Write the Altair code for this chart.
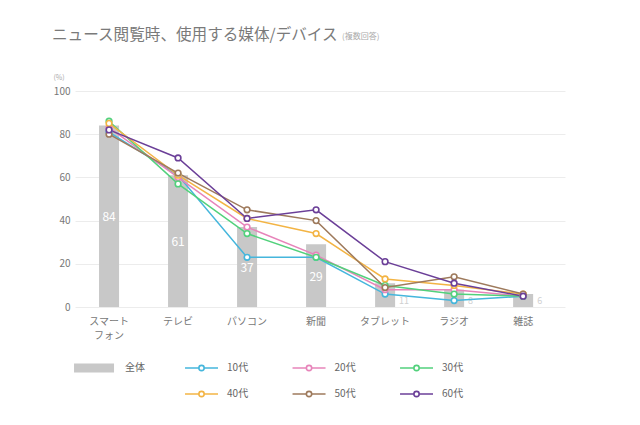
import altair as alt
import pandas as pd

categories = ["スマートフォン", "テレビ", "パソコン", "新聞", "タブレット", "ラジオ", "雑誌"]
total = [84, 61, 37, 29, 11, 8, 6]

ages = ["10代", "20代", "30代", "40代", "50代", "60代"]
v10 = [81, 61, 23, 23, 6, 3, 5]
v20 = [83, 60, 37, 24, 8, 8, 5]
v30 = [86, 57, 34, 23, 10, 6, 5]
v40 = [85, 61, 41, 34, 13, 10, 6]
v50 = [80, 62, 45, 40, 9, 14, 6]
v60 = [82, 69, 41, 45, 21, 11, 5]
series = [v10, v20, v30, v40, v50, v60]
colors = ["#45b6dc", "#e784ba", "#52d17c", "#f3b444", "#9e7a5c", "#6b3f98"]

title_main = "ニュース閲覧時、使用する媒体/デバイス"
title_note = "(複数回答)"
FONT = "Noto Sans CJK JP"

bar_df = pd.DataFrame({"cat": categories, "total": total})
line_df = pd.DataFrame(
    [{"cat": c, "age": a, "value": v} for a, vals in zip(ages, series) for c, v in zip(categories, vals)]
)

xscale = alt.Scale(paddingInner=0.71, paddingOuter=0.405, align=0.43)
xaxis = alt.Axis(
    title=None, labelAngle=0, ticks=False, domain=False, labelPadding=9,
    labelFontSize=10, labelColor="#777", labelLineHeight=14,
    labelExpr="datum.value == 'スマートフォン' ? ['スマート', 'フォン'] : datum.value",
)
yscale = alt.Scale(domain=[0, 100])
yaxis = alt.Axis(
    values=[0, 20, 40, 60, 80, 100], title="(%)", titleAngle=0, titleX=-22, titleY=-14,
    titleAlign="left", titleBaseline="middle", titleFontSize=7, titleColor="#aaa",
    titleFontWeight="normal", grid=True, gridColor="#ececec", domain=False, ticks=False,
    labelPadding=5, labelColor="#777", labelFontSize=10,
)

cscale = alt.Scale(domain=ages, range=colors)

base_bar = alt.Chart(bar_df)
bars = base_bar.mark_bar(color="#c8c8c8").encode(
    x=alt.X("cat:N", sort=categories, scale=xscale, axis=xaxis),
    y=alt.Y("total:Q", scale=yscale, axis=yaxis),
)
inner_labels = base_bar.transform_filter("datum.total >= 20").transform_calculate(
    half="datum.total / 2"
).mark_text(color="white", fontSize=12, fontWeight="normal", baseline="middle", dy=1).encode(
    x=alt.X("cat:N", sort=categories, bandPosition=0.5),
    y=alt.Y("half:Q"),
    text=alt.Text("total:Q"),
)
outer_labels = base_bar.transform_filter("datum.total < 20").transform_calculate(
    zero="0"
).mark_text(color="#d0d0d0", fontSize=9, align="left", baseline="bottom", dx=4, dy=-1).encode(
    x=alt.X("cat:N", sort=categories, bandPosition=1),
    y=alt.Y("zero:Q"),
    text=alt.Text("total:Q"),
)
lines = alt.Chart(line_df).mark_line(strokeWidth=1.5).encode(
    x=alt.X("cat:N", sort=categories, bandPosition=0.5),
    y=alt.Y("value:Q"),
    color=alt.Color("age:N", scale=cscale, legend=None),
)
points = alt.Chart(line_df).mark_point(
    shape="circle", filled=True, fill="white", size=32, strokeWidth=1.6, opacity=1
).encode(
    x=alt.X("cat:N", sort=categories, bandPosition=0.5),
    y=alt.Y("value:Q"),
    stroke=alt.Stroke("age:N", scale=cscale, legend=None),
)
title_df = pd.DataFrame({"t": [title_main]})
note_df = pd.DataFrame({"t": [title_note]})
title_txt = alt.Chart(title_df).mark_text(
    fontSize=15.6, color="#7a7a7a", align="left", baseline="alphabetic"
).encode(x=alt.value(-23), y=alt.value(-51), text="t:N")
note_txt = alt.Chart(note_df).mark_text(
    fontSize=8, color="#aaa", align="left", baseline="alphabetic"
).encode(x=alt.value(267), y=alt.value(-52), text="t:N")

main = alt.layer(bars, inner_labels, outer_labels, lines, points, title_txt, note_txt).properties(
    width=490, height=216
)

# legend
leg_bar_df = pd.DataFrame({"label": ["全体"], "col": [0], "row": [0]})
leg_line_df = pd.DataFrame(
    {"label": ages, "age": ages, "col": [i % 3 + 1 for i in range(len(ages))], "row": [i // 3 for i in range(len(ages))]}
)
lx = alt.Scale(domain=[-0.177, 4.381])
ly = alt.Scale(domain=[-0.5, 1.5], reverse=True)

leg_bar = alt.Chart(leg_bar_df).transform_calculate(
    lo="datum.col - 0.186", hi="datum.col + 0.186"
).mark_rule(color="#c8c8c8", strokeWidth=9).encode(
    x=alt.X("lo:Q", scale=lx, axis=None), x2="hi:Q",
    y=alt.Y("row:Q", scale=ly, axis=None),
)
leg_bar_txt = alt.Chart(leg_bar_df).mark_text(
    align="left", baseline="middle", dx=31, fontSize=10, color="#666"
).encode(x=alt.X("col:Q", scale=lx, axis=None), y=alt.Y("row:Q", scale=ly, axis=None), text="label:N")
leg_line = alt.Chart(leg_line_df).transform_calculate(
    lo="datum.col - 0.1535", hi="datum.col + 0.1535"
).mark_rule(strokeWidth=1.5).encode(
    x=alt.X("lo:Q", scale=lx, axis=None), x2="hi:Q",
    y=alt.Y("row:Q", scale=ly, axis=None),
    color=alt.Color("age:N", scale=cscale, legend=None),
)
leg_pt = alt.Chart(leg_line_df).mark_point(
    shape="circle", filled=True, fill="white", size=28, strokeWidth=1.6, opacity=1
).encode(
    x=alt.X("col:Q", scale=lx, axis=None), y=alt.Y("row:Q", scale=ly, axis=None),
    stroke=alt.Stroke("age:N", scale=cscale, legend=None),
)
leg_txt = alt.Chart(leg_line_df).mark_text(
    align="left", baseline="middle", dx=25.5, fontSize=10, color="#666"
).encode(x=alt.X("col:Q", scale=lx, axis=None), y=alt.Y("row:Q", scale=ly, axis=None), text="label:N")

legend = alt.layer(leg_bar, leg_bar_txt, leg_line, leg_pt, leg_txt).properties(width=490, height=52)

chart = alt.vconcat(main, legend, spacing=15).resolve_scale(
    x="independent", y="independent"
).properties(
    padding={"top": 20, "left": 44, "right": 5, "bottom": 5}
).configure(
    font=FONT, background="white"
).configure_view(stroke=None)

chart.save("out.html", embed_options={"renderer": "svg", "actions": False})
